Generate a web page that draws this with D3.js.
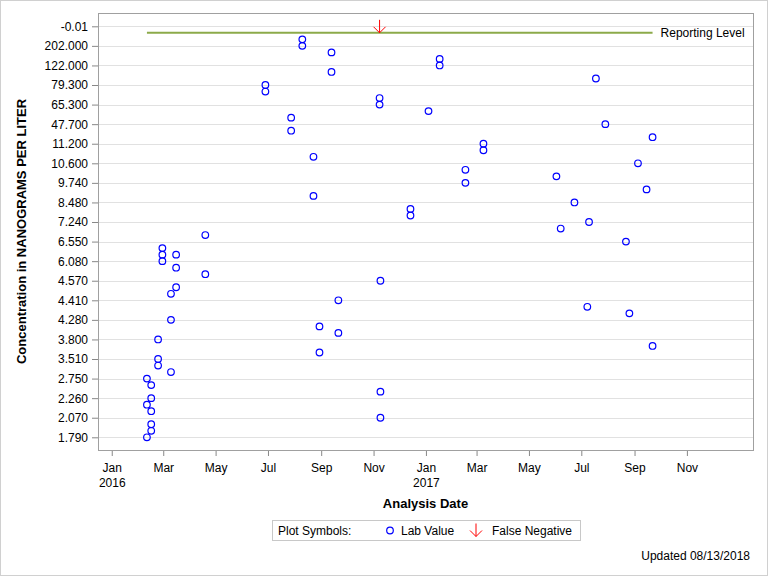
<!DOCTYPE html>
<html lang="en">
<head>
<meta charset="UTF-8">
<title>Analysis Date chart</title>
<style>
  body { margin: 0; background: #fff; }
  text { font-family: "Liberation Sans", Arial, sans-serif; fill: #000; }
</style>
</head>
<body>
<svg id="chart"></svg>
<script src="https://d3js.org/d3.v7.min.js"></script>
<script>
// Discrete concentration levels, top to bottom as drawn on the axis
var concLevels = ["-0.01", "500.000", "240.000", "202.000", "160.000", "130.000", "122.000", "95.800",
    "87.100", "79.300", "73.500", "68.900", "65.300", "56.000", "51.200", "47.700",
    "44.500", "14.800", "11.200", "10.900", "10.700", "10.600", "10.200", "9.930",
    "9.740", "9.120", "8.770", "8.480", "7.940", "7.510", "7.240", "6.890",
    "6.710", "6.550", "6.360", "6.210", "6.080", "5.520", "4.830", "4.570",
    "4.500", "4.460", "4.410", "4.350", "4.310", "4.280", "4.120", "3.950",
    "3.800", "3.650", "3.580", "3.510", "3.270", "2.980", "2.750", "2.540",
    "2.380", "2.260", "2.190", "2.120", "2.070", "1.960", "1.880", "1.790"];

// only every third level gets a label
var tickLabels = ["-0.01", "202.000", "122.000", "79.300", "65.300", "47.700", "11.200", "10.600",
    "9.740", "8.480", "7.240", "6.550", "6.080", "4.570", "4.410", "4.280",
    "3.800", "3.510", "2.750", "2.260", "2.070", "1.790"];

// Lab values
var labDates = ["2016-08-10", "2016-08-10", "2016-09-13", "2017-01-17", "2017-01-17", "2016-09-13",
    "2017-07-18", "2016-06-28", "2016-06-28", "2016-11-08", "2016-11-08", "2017-01-04",
    "2016-07-28", "2017-07-29", "2016-07-28", "2017-09-22", "2017-03-09", "2017-03-09",
    "2016-08-23", "2017-09-05", "2017-02-16", "2017-06-02", "2017-02-16", "2017-09-15",
    "2016-08-23", "2017-06-23", "2016-12-14", "2016-12-14", "2017-07-10", "2017-06-07",
    "2016-04-19", "2017-08-22", "2016-02-29", "2016-02-29", "2016-03-16", "2016-02-29",
    "2016-03-16", "2016-04-19", "2016-11-09", "2016-03-16", "2016-03-10", "2016-09-21",
    "2017-07-08", "2017-08-26", "2016-03-10", "2016-08-30", "2016-09-21", "2016-02-24",
    "2017-09-22", "2016-08-30", "2016-02-24", "2016-02-24", "2016-03-10", "2016-02-11",
    "2016-02-16", "2016-11-09", "2016-02-16", "2016-02-11", "2016-02-16", "2016-11-09",
    "2016-02-16", "2016-02-16", "2016-02-11"];
var labValues = ["240.000", "202.000", "160.000", "130.000", "122.000", "95.800",
    "87.100", "79.300", "73.500", "68.900", "65.300", "56.000",
    "51.200", "47.700", "44.500", "14.800", "11.200", "10.900",
    "10.700", "10.600", "10.200", "9.930", "9.740", "9.120",
    "8.770", "8.480", "7.940", "7.510", "7.240", "6.890",
    "6.710", "6.550", "6.360", "6.210", "6.210", "6.080",
    "5.520", "4.830", "4.570", "4.500", "4.460", "4.410",
    "4.350", "4.310", "4.280", "4.120", "3.950", "3.800",
    "3.650", "3.580", "3.510", "3.270", "2.980", "2.750",
    "2.540", "2.380", "2.260", "2.190", "2.120", "2.070",
    "1.960", "1.880", "1.790"];

// False negatives
var fnDates = ["2016-11-08"];
var fnValues = ["-0.01"];

var reportingLevel = "500.000";

var width = 768, height = 576;
var parse = d3.utcParse("%Y-%m-%d");

var svg = d3.select("#chart")
    .attr("width", width)
    .attr("height", height);

// outer border
svg.append("rect")
    .attr("x", 0.5).attr("y", 0.5)
    .attr("width", width - 1).attr("height", height - 1)
    .attr("fill", "none").attr("stroke", "#d0d0d0");

var plot = { left: 98, right: 753, top: 13, bottom: 450 };

var x = d3.scaleUtc()
    .domain([parse("2015-12-16"), parse("2018-01-17")])
    .range([plot.left, plot.right]);

var y = d3.scalePoint()
    .domain(concLevels)
    .range([26.3, 437.3]);

// gridlines
svg.append("g")
    .selectAll("line")
    .data(tickLabels)
    .enter()
    .append("line")
    .attr("x1", plot.left).attr("x2", plot.right)
    .attr("y1", d => Math.round(y(d)) + 0.5)
    .attr("y2", d => Math.round(y(d)) + 0.5)
    .attr("stroke", "#e1e1e1");

// y axis
var yAxis = svg.append("g")
    .attr("transform", "translate(" + plot.left + ",0)")
    .call(d3.axisLeft(y).tickValues(tickLabels).tickSize(6).tickPadding(4));
yAxis.select(".domain").remove();
yAxis.selectAll(".tick line").attr("stroke", "#888");
yAxis.selectAll(".tick text")
    .attr("font-size", 12)
    .style("font-family", "Liberation Sans, Arial, sans-serif")
    .attr("fill", "#000");

// x axis
var monthTicks = d3.utcMonth.every(2).range(parse("2016-01-01"), parse("2017-12-01"));
var xAxis = svg.append("g")
    .attr("transform", "translate(0," + plot.bottom + ")")
    .call(d3.axisBottom(x).tickValues(monthTicks).tickSize(6).tickFormat(""));
xAxis.select(".domain").remove();
xAxis.selectAll(".tick line").attr("stroke", "#888");
xAxis.selectAll(".tick")
    .append("text")
    .attr("y", 22)
    .attr("text-anchor", "middle")
    .attr("font-size", 12)
    .style("font-family", "Liberation Sans, Arial, sans-serif")
    .attr("fill", "#000")
    .each(function (d) {
        var t = d3.select(this);
        t.append("tspan").attr("x", 0).text(d3.utcFormat("%b")(d));
        if (d.getUTCMonth() === 0) {
            t.append("tspan").attr("x", 0).attr("dy", 15).text(d3.utcFormat("%Y")(d));
        }
    });

// frame
svg.append("rect")
    .attr("x", plot.left + 0.5).attr("y", plot.top + 0.5)
    .attr("width", plot.right - plot.left).attr("height", plot.bottom - plot.top)
    .attr("fill", "none").attr("stroke", "#a0a0a0");

// reporting level
var allDates = labDates.concat(fnDates).map(parse);
svg.append("line")
    .attr("x1", x(d3.min(allDates))).attr("x2", x(d3.max(allDates)))
    .attr("y1", y(reportingLevel)).attr("y2", y(reportingLevel))
    .attr("stroke", "#8CAA4A").attr("stroke-width", 2);
svg.append("text")
    .attr("x", x(d3.max(allDates)) + 8)
    .attr("y", y(reportingLevel) + 4)
    .attr("font-size", 12)
    .text("Reporting Level");

// lab values
svg.append("g")
    .selectAll("circle")
    .data(labDates.map((d, i) => ({ date: parse(d), value: labValues[i] })))
    .enter()
    .append("circle")
    .attr("cx", d => x(d.date))
    .attr("cy", d => y(d.value))
    .attr("r", 3.3)
    .attr("fill", "none")
    .attr("stroke", "#0000ff")
    .attr("stroke-width", 1.2);

// false negative arrows
function arrow(g, cx, cy) {
    g.append("path")
        .attr("d", "M" + cx + "," + (cy - 6.5) + "V" + (cy + 6.5) +
            "M" + (cx - 6) + "," + (cy + 0.5) + "L" + cx + "," + (cy + 6.5) + "L" + (cx + 6) + "," + (cy + 0.5))
        .attr("fill", "none")
        .attr("stroke", "#ff0000")
        .attr("stroke-width", 1);
}
fnDates.forEach((d, i) => arrow(svg, x(parse(d)), y(fnValues[i])));

// axis titles
svg.append("text")
    .attr("transform", "translate(26," + ((plot.top + plot.bottom) / 2) + ") rotate(-90)")
    .attr("text-anchor", "middle")
    .attr("font-size", 13)
    .attr("font-weight", "bold")
    .text("Concentration in NANOGRAMS PER LITER");

svg.append("text")
    .attr("x", (plot.left + plot.right) / 2)
    .attr("y", 508)
    .attr("text-anchor", "middle")
    .attr("font-size", 13)
    .attr("font-weight", "bold")
    .text("Analysis Date");

// legend
var leg = svg.append("g");
leg.append("rect")
    .attr("x", 272.5).attr("y", 520.5)
    .attr("width", 308).attr("height", 20)
    .attr("fill", "none").attr("stroke", "#c8c8c8");
leg.append("text").attr("x", 278).attr("y", 535).attr("font-size", 12).text("Plot Symbols:");
leg.append("circle").attr("cx", 390).attr("cy", 530.5).attr("r", 3.3)
    .attr("fill", "none").attr("stroke", "#0000ff").attr("stroke-width", 1.2);
leg.append("text").attr("x", 401).attr("y", 535).attr("font-size", 12).text("Lab Value");
arrow(leg, 476, 530);
leg.append("text").attr("x", 492).attr("y", 535).attr("font-size", 12).text("False Negative");

svg.append("text")
    .attr("x", 750).attr("y", 560)
    .attr("text-anchor", "end")
    .attr("font-size", 12)
    .text("Updated 08/13/2018");
</script>
</body>
</html>
